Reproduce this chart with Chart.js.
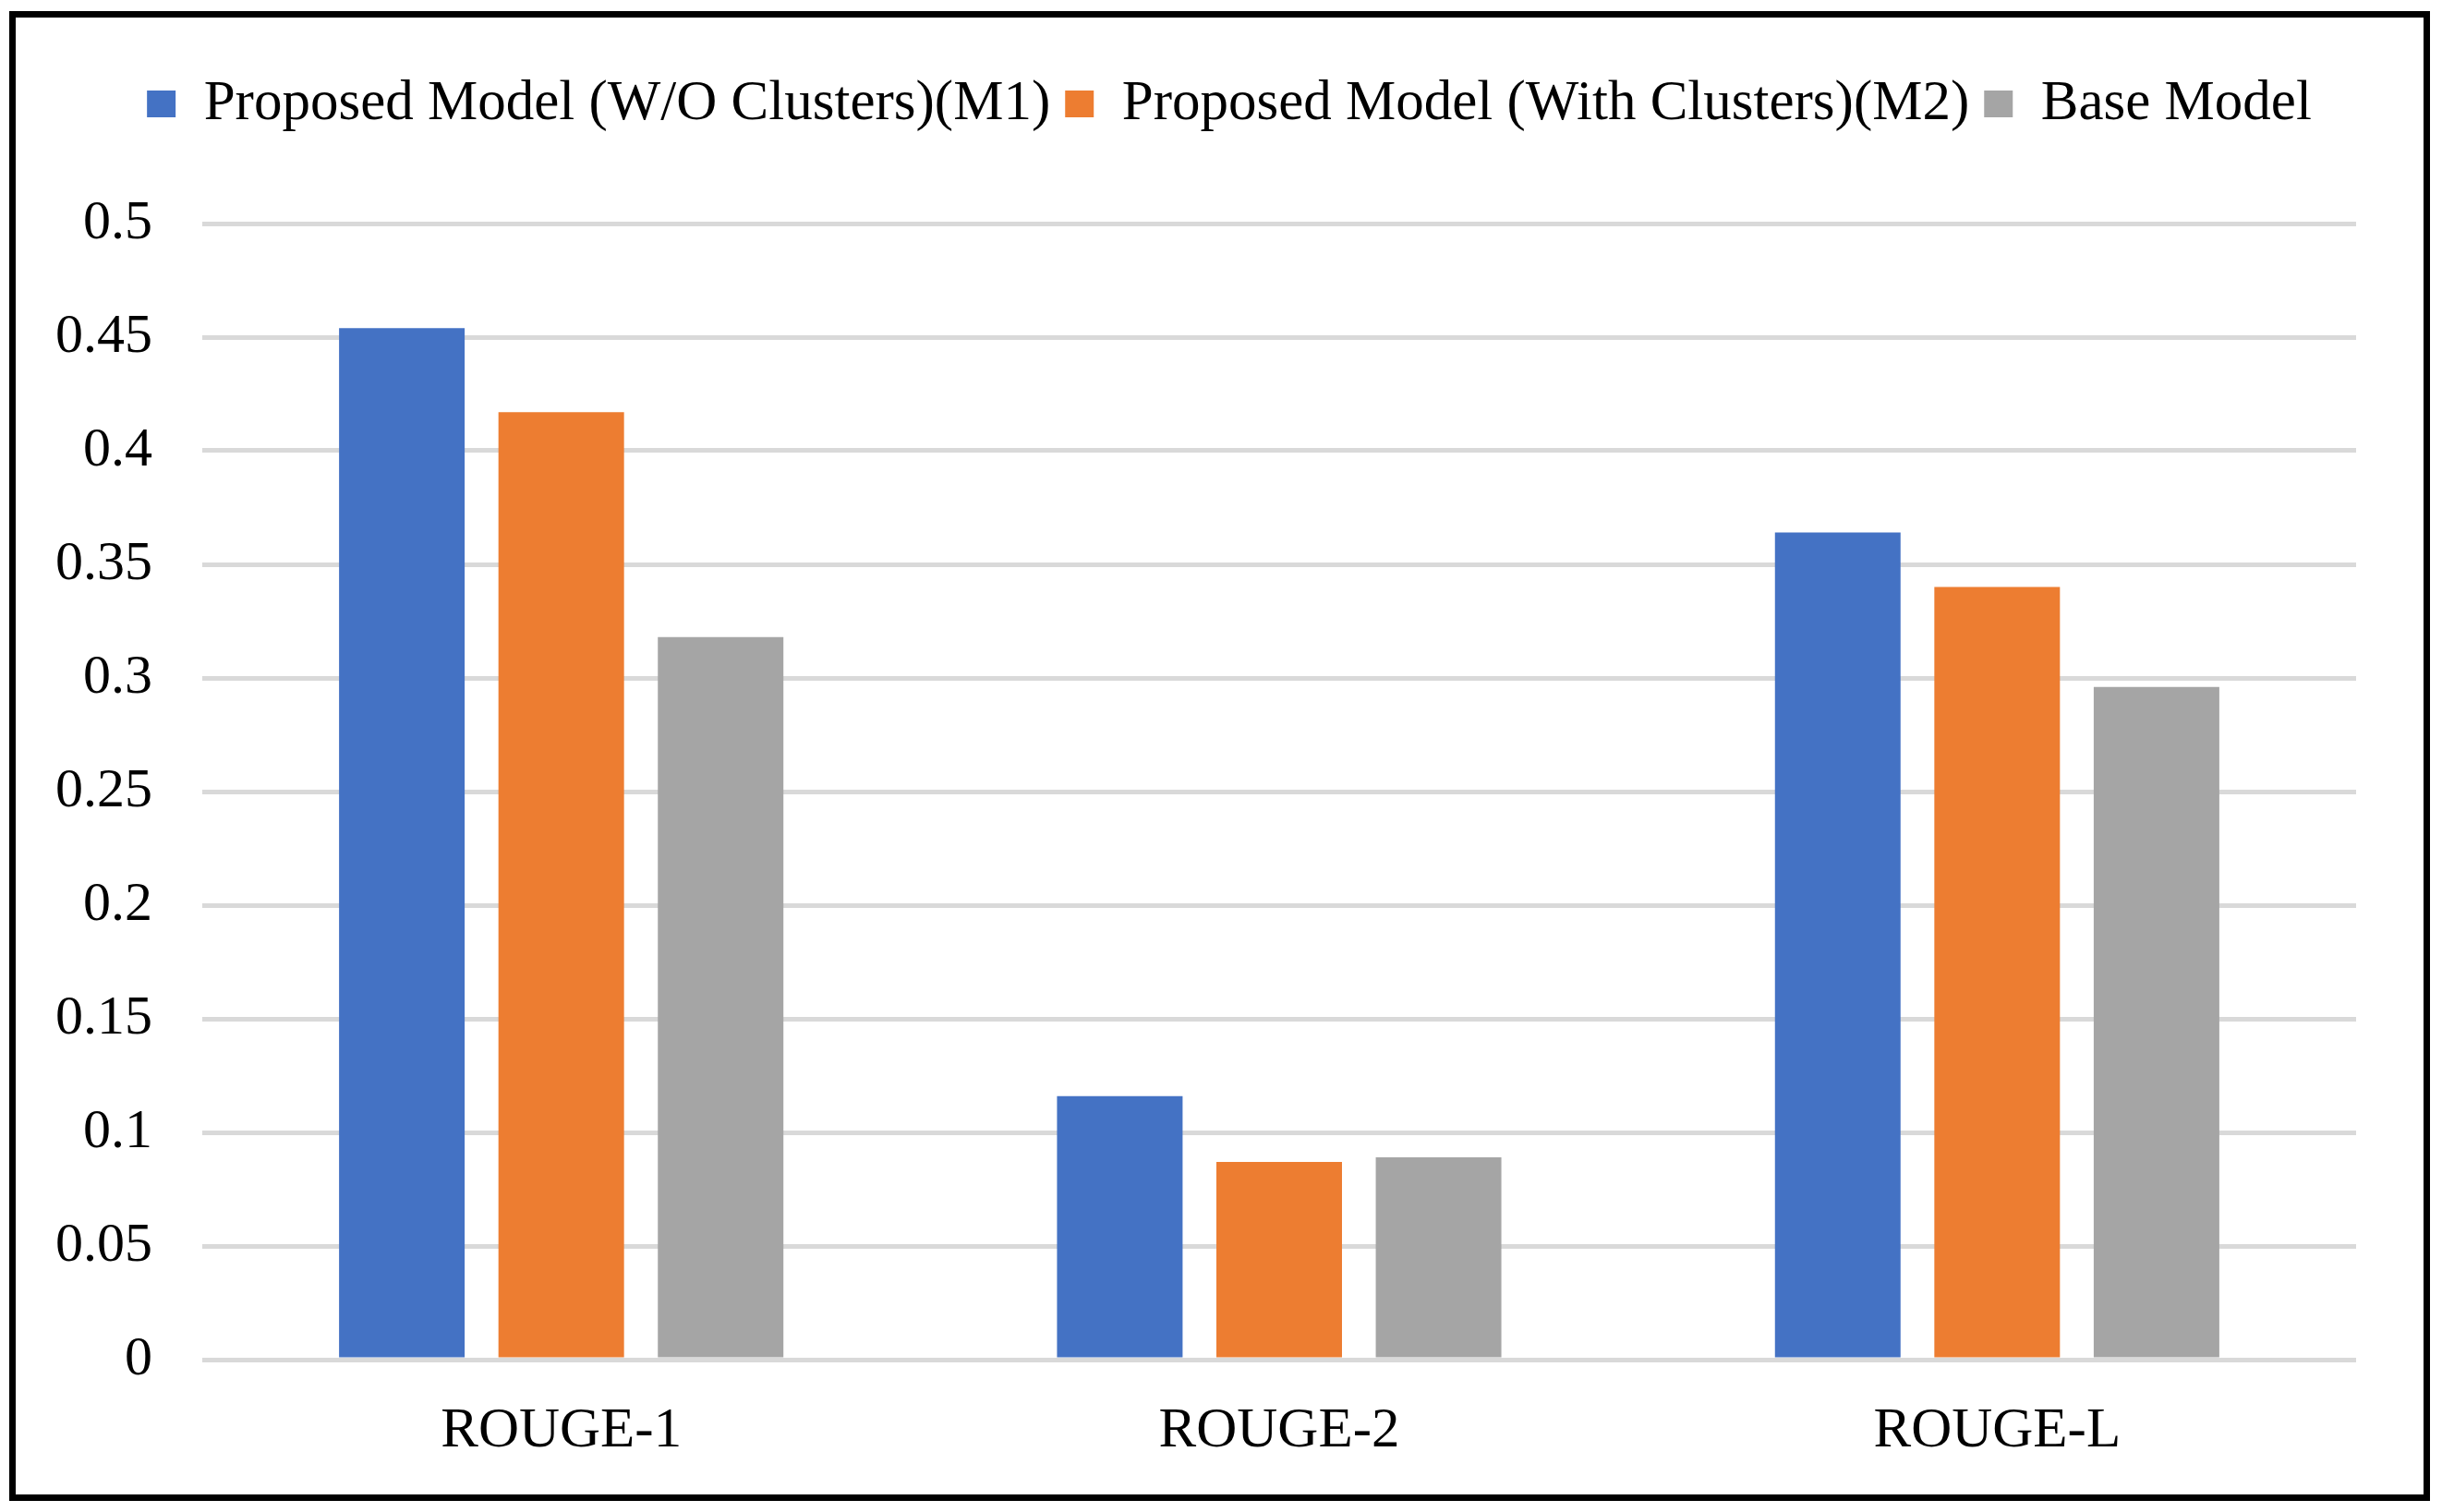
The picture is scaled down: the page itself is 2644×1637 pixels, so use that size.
<!DOCTYPE html>
<html>
<head>
<meta charset="utf-8">
<script src="https://cdn.jsdelivr.net/npm/chart.js@4.4.1/dist/chart.umd.min.js"></script>
<style>
  html, body { margin: 0; padding: 0; background: #ffffff; }
  #frame {
    position: absolute; left: 10px; top: 12px;
    width: 2607px; height: 1599px;
    border: 7px solid #000000; background: #ffffff;
  }
  canvas { display: block; }
</style>
</head>
<body>
<div id="frame"><canvas id="c" width="2607" height="1599" style="width:2607px;height:1599px"></canvas></div>
<script>
const categories = ['ROUGE-1', 'ROUGE-2', 'ROUGE-L'];
const seriesNames = ['Proposed Model (W/O Clusters)(M1)', 'Proposed Model (With Clusters)(M2)', 'Base Model'];
const m1Values = [0.454, 0.116, 0.364];
const m2Values = [0.417, 0.087, 0.340];
const baseValues = [0.318, 0.089, 0.296];
const yTickLabels = ['0', '0.05', '0.1', '0.15', '0.2', '0.25', '0.3', '0.35', '0.4', '0.45', '0.5'];
const colors = ['#4472C4', '#ED7D31', '#A5A5A5'];

const FONT = 'Liberation Serif, Times New Roman, serif';

const layoutTweaks = {
  id: 'layoutTweaks',
  beforeInit(chart) {
    const origFit = chart.legend.fit;
    chart.legend.fit = function () {
      origFit.bind(chart.legend)();
      this.height += 89;
    };
  },
  afterLayout(chart) {
    // widen the y-axis label area to the canvas edge so labels are not clipped
    chart.scales.y.left = 0;
  }
};

new Chart(document.getElementById('c'), {
  type: 'bar',
  data: {
    labels: categories,
    datasets: [
      { label: seriesNames[0], data: m1Values, backgroundColor: colors[0] },
      { label: seriesNames[1], data: m2Values, backgroundColor: colors[1] },
      { label: seriesNames[2], data: baseValues, backgroundColor: colors[2] }
    ]
  },
  options: {
    responsive: false,
    animation: false,
    devicePixelRatio: 1,
    layout: { padding: { left: 94, right: 73, top: 47, bottom: 0 } },
    datasets: { bar: { categoryPercentage: 0.666, barPercentage: 0.788, borderWidth: 0 } },
    plugins: {
      legend: {
        position: 'top',
        labels: {
          font: { family: FONT, size: 61 },
          color: '#000000',
          boxWidth: 31,
          boxHeight: 29,
          padding: 16
        }
      },
      tooltip: { enabled: false }
    },
    scales: {
      x: {
        grid: { display: false, drawTicks: false },
        border: { display: false },
        ticks: { font: { family: FONT, size: 61 }, color: '#000000', padding: 41 },
        afterFit(scale) { scale.height = 146; }
      },
      y: {
        min: 0,
        max: 0.5,
        grid: { color: '#D9D9D9', lineWidth: 5, drawTicks: false },
        border: { display: false },
        ticks: {
          stepSize: 0.05,
          font: { family: FONT, size: 60 },
          color: '#000000',
          padding: 54,
          callback: (v, i) => yTickLabels[i]
        },
        afterFit(scale) { scale.width = 108; }
      }
    }
  },
  plugins: [layoutTweaks]
});
</script>
</body>
</html>
